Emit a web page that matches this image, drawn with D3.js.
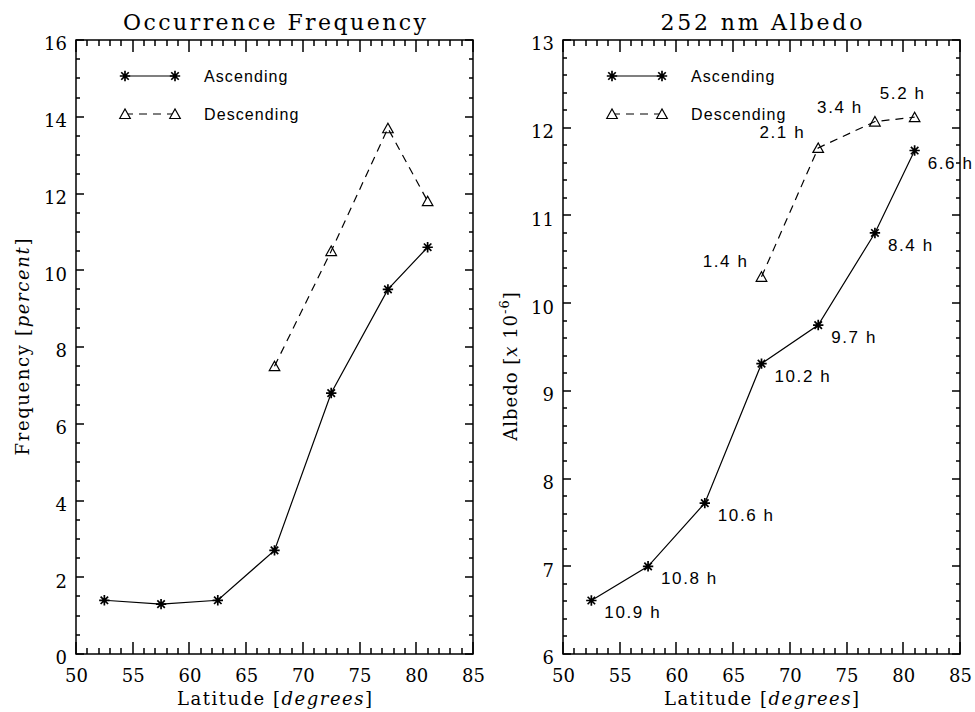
<!DOCTYPE html>
<html><head><meta charset="utf-8">
<script src="https://cdn.jsdelivr.net/npm/d3@7"></script>
<style>body{margin:0;background:#fff}</style>
</head><body><svg id="c" width="975" height="712"></svg>
<script>
// ---- data ----
const latitudes = [52.5, 57.5, 62.5, 67.5, 72.5, 77.5, 81];
const freqAscending = [1.4, 1.3, 1.4, 2.7, 6.8, 9.5, 10.6];
const descLatitudes = [67.5, 72.5, 77.5, 81];
const freqDescending = [7.5, 10.5, 13.7, 11.8];
const albedoAscending = [6.61, 7.0, 7.72, 9.31, 9.75, 10.8, 11.74];
const albedoDescending = [10.3, 11.77, 12.07, 12.12];
const ascendingHours = ["10.9 h", "10.8 h", "10.6 h", "10.2 h", "9.7 h", "8.4 h", "6.6 h"];
const descendingHours = ["1.4 h", "2.1 h", "3.4 h", "5.2 h"];
const xTicks = [50, 55, 60, 65, 70, 75, 80, 85];
const freqTicks = [0, 2, 4, 6, 8, 10, 12, 14, 16];
const albedoTicks = [6, 7, 8, 9, 10, 11, 12, 13];
const legendLabels = ["Ascending", "Descending"];

// ---- layout ----
const svg = d3.select("#c");
const serif = "'DejaVu Serif', serif";
const sans = "'Liberation Sans', Arial, sans-serif";
const descLabelOffsets = [[-13, -10], [-13, -10], [-12, -9], [11, -18]];

const panels = [
  { left: 76, right: 473, top: 40, bottom: 654, yDomain: [0, 16], yMajor: freqTicks, yMinorStep: 0.5,
    title: "Occurrence Frequency", titleLen: 303,
    asc: freqAscending, desc: freqDescending, labels: false,
    yLabel: [["Frequency ", "normal"], ["[", "normal"], ["percent", "italic"], ["]", "normal"]],
    yLabelX: 29, yLabelY: 347, yLabelLen: 217 },
  { left: 563, right: 960, top: 40, bottom: 654, yDomain: [6, 13], yMajor: albedoTicks, yMinorStep: 0.2,
    title: "252 nm Albedo", titleLen: 202,
    asc: albedoAscending, desc: albedoDescending, labels: true,
    yLabel: null, yLabelX: 517, yLabelY: 366 }
];

function starPath(r) {
  const d = r * 0.72;
  return `M${-r},0H${r}M0,${-r}V${r}M${-d},${-d}L${d},${d}M${-d},${d}L${d},${-d}`;
}
const triPath = "M-5.3,4.5L0,-5L5.3,4.5Z";

panels.forEach(p => {
  const x = d3.scaleLinear().domain([50, 85]).range([p.left, p.right]);
  const y = d3.scaleLinear().domain(p.yDomain).range([p.bottom, p.top]);
  const g = svg.append("g");

  const xMinor = d3.range(50, 85.001, 1);
  const yMinor = d3.range(0, Math.round((p.yDomain[1] - p.yDomain[0]) / p.yMinorStep) + 1)
    .map(i => p.yDomain[0] + i * p.yMinorStep);

  // tick labels via d3 axes
  g.append("g").attr("class", "axb").attr("transform", `translate(0,${p.bottom})`)
    .call(d3.axisBottom(x).tickValues(xTicks).tickSize(0).tickPadding(15).tickFormat(d3.format("d")));
  const gl = g.append("g").attr("class", "axl").attr("transform", `translate(${p.left},0)`)
    .call(d3.axisLeft(y).tickValues(p.yMajor).tickSize(0).tickPadding(9).tickFormat(d3.format("d")));
  g.selectAll(".domain").remove();
  g.selectAll(".axb line, .axl line").remove();
  g.selectAll(".tick text").attr("font-family", serif).attr("font-size", 18).attr("fill", "#000");
  gl.selectAll(".tick text").attr("dy", "0.55em");

  // frame
  g.append("rect").attr("x", p.left).attr("y", p.top)
    .attr("width", p.right - p.left).attr("height", p.bottom - p.top)
    .attr("fill", "none").attr("stroke", "#000").attr("stroke-width", 1.5);

  // tick marks (thin filled rects) placed from the scales
  const xt = xMinor.map(v => ({ v, len: xTicks.includes(v) ? 12 : 6 }));
  const yt = yMinor.map(v => ({ v, len: p.yMajor.some(m => Math.abs(m - v) < 1e-6) ? 8 : 4 }));
  const tg = g.append("g").attr("fill", "#000");
  tg.selectAll(".xb").data(xt).join("rect").attr("class", "xb")
    .attr("x", d => Math.round(x(d.v)) - 0.75).attr("width", 1.5)
    .attr("y", d => p.bottom - d.len).attr("height", d => d.len);
  tg.selectAll(".xt").data(xt).join("rect").attr("class", "xt")
    .attr("x", d => Math.round(x(d.v)) - 0.75).attr("width", 1.5)
    .attr("y", p.top).attr("height", d => d.len);
  tg.selectAll(".yl").data(yt).join("rect").attr("class", "yl")
    .attr("y", d => Math.round(y(d.v)) - 0.75).attr("height", 1.5)
    .attr("x", p.left).attr("width", d => d.len);
  tg.selectAll(".yr").data(yt).join("rect").attr("class", "yr")
    .attr("y", d => Math.round(y(d.v)) - 0.75).attr("height", 1.5)
    .attr("x", d => p.right - d.len).attr("width", d => d.len);

  // title
  g.append("text").attr("x", (p.left + p.right) / 2).attr("y", 30)
    .attr("text-anchor", "middle").attr("font-family", serif).attr("font-size", 22)
    .attr("textLength", p.titleLen).attr("lengthAdjust", "spacing").text(p.title);

  // x label
  const xl = g.append("text").attr("x", (p.left + p.right) / 2).attr("y", 705)
    .attr("text-anchor", "middle").attr("font-family", serif).attr("font-size", 18)
    .attr("textLength", 195).attr("lengthAdjust", "spacing");
  xl.append("tspan").text("Latitude [");
  xl.append("tspan").attr("font-style", "italic").text("degrees");
  xl.append("tspan").text("]");

  // y label
  const yl = g.append("text").attr("transform", `translate(${p.yLabelX},${p.yLabelY}) rotate(-90)`)
    .attr("text-anchor", "middle").attr("font-family", serif).attr("font-size", 18);
  if (p.yLabel) {
    yl.attr("textLength", p.yLabelLen).attr("lengthAdjust", "spacing");
    p.yLabel.forEach(([t, s]) => yl.append("tspan").attr("font-style", s).text(t));
  } else {
    yl.attr("letter-spacing", 1);
    yl.append("tspan").text("Albedo [");
    yl.append("tspan").attr("font-style", "italic").text("x");
    yl.append("tspan").text(" 10");
    yl.append("tspan").attr("font-size", 13).attr("dy", -8).text("-6");
    yl.append("tspan").attr("dy", 8).text("]");
  }

  const line = d3.line().x(d => x(d[0])).y(d => y(d[1]));
  const ascPts = latitudes.map((l, i) => [l, p.asc[i]]);
  const descPts = descLatitudes.map((l, i) => [l, p.desc[i]]);

  g.append("path").attr("d", line(ascPts)).attr("fill", "none").attr("stroke", "#000").attr("stroke-width", 1.2);
  g.append("path").attr("d", line(descPts)).attr("fill", "none").attr("stroke", "#000")
    .attr("stroke-width", 1.2).attr("stroke-dasharray", "8,6");

  g.selectAll(".star").data(ascPts).join("path").attr("class", "star")
    .attr("transform", d => `translate(${x(d[0])},${y(d[1])})`)
    .attr("d", starPath(5.2)).attr("stroke", "#000").attr("stroke-width", 1.7).attr("fill", "none");
  g.selectAll(".tri").data(descPts).join("path").attr("class", "tri")
    .attr("transform", d => `translate(${x(d[0])},${y(d[1])})`)
    .attr("d", triPath).attr("stroke", "#000").attr("stroke-width", 1.2).attr("fill", "none");

  if (p.labels) {
    g.selectAll(".alab").data(ascPts).join("text").attr("class", "alab")
      .attr("x", d => x(d[0]) + 13).attr("y", d => y(d[1]) + 18)
      .attr("font-family", sans).attr("font-size", 17).attr("letter-spacing", 1.6)
      .text((d, i) => ascendingHours[i]);
    g.selectAll(".dlab").data(descPts).join("text").attr("class", "dlab")
      .attr("x", (d, i) => x(d[0]) + descLabelOffsets[i][0]).attr("y", (d, i) => y(d[1]) + descLabelOffsets[i][1])
      .attr("text-anchor", "end")
      .attr("font-family", sans).attr("font-size", 17).attr("letter-spacing", 1.6)
      .text((d, i) => descendingHours[i]);
  }

  // legend
  const lx1 = p.left + 49, lx2 = p.left + 99, ltx = p.left + 128;
  const ly = [p.top + 36, p.top + 74];
  g.append("line").attr("x1", lx1).attr("x2", lx2).attr("y1", ly[0]).attr("y2", ly[0]).attr("stroke", "#000").attr("stroke-width", 1.2);
  g.append("line").attr("x1", lx1).attr("x2", lx2).attr("y1", ly[1]).attr("y2", ly[1]).attr("stroke", "#000")
    .attr("stroke-width", 1.2).attr("stroke-dasharray", "8,6");
  [lx1, lx2].forEach(lx => {
    g.append("path").attr("transform", `translate(${lx},${ly[0]})`).attr("d", starPath(5.2))
      .attr("stroke", "#000").attr("stroke-width", 1.7).attr("fill", "none");
    g.append("path").attr("transform", `translate(${lx},${ly[1]})`).attr("d", triPath)
      .attr("stroke", "#000").attr("stroke-width", 1.2).attr("fill", "#fff");
  });
  legendLabels.forEach((t, i) => {
    g.append("text").attr("x", ltx).attr("y", ly[i] + 6).attr("font-family", sans)
      .attr("font-size", 16).attr("letter-spacing", 1.1).text(t);
  });
});
</script></body></html>
